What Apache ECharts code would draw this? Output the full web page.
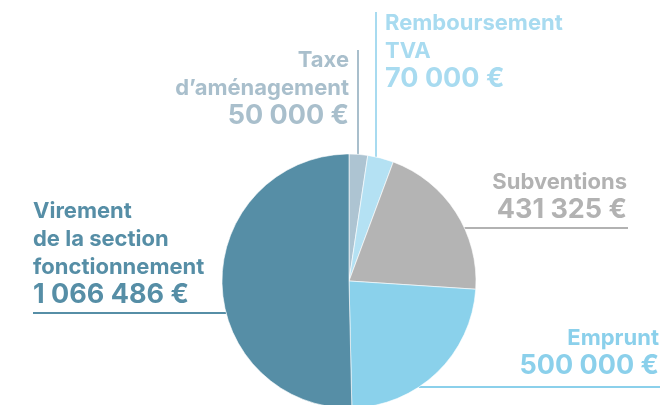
<!DOCTYPE html>
<html>
<head>
<meta charset="utf-8">
<script src="https://cdn.jsdelivr.net/npm/echarts@6/dist/echarts.min.js"></script>
<style>
  html, body { margin: 0; padding: 0; background: #fff; }
  #chart { width: 662px; height: 405px; }
</style>
</head>
<body>
<div id="chart"></div>
<script>
// Data
var names = ['Taxe\nd’aménagement', 'Remboursement\nTVA', 'Subventions', 'Emprunt', 'Virement\nde la section\nfonctionnement'];
var values = [50000, 70000, 431325, 500000, 1066486];

// Styles
var sliceColors = ['#adc4d2', '#b4e1f3', '#b4b4b4', '#8ad1eb', '#568ea6'];
var textColors = ['#a9bfcc', '#a8dbf0', '#b2b2b2', '#8bd0eb', '#568ea6'];

// pie geometry (px)
var cx = 349, cy = 281, r = 127;

// label placement: anchor x, top y, align, and guide line (vertical 'v' at x / horizontal 'h' at y, with outer end)
var place = [
  { x: 349, y: 46, align: 'right', dir: 'v', at: 358, end: 50 },
  { x: 385, y: 9, align: 'left', dir: 'v', at: 376, end: 12 },
  { x: 627, y: 168, align: 'right', dir: 'h', at: 228, end: 628 },
  { x: 659, y: 324, align: 'right', dir: 'h', at: 387, end: 660 },
  { x: 33, y: 197, align: 'left', dir: 'h', at: 313, end: 33 }
];

function euro(v) {
  return String(v).replace(/\B(?=(\d{3})+(?!\d))/g, ' ') + ' €';
}

var myChart = echarts.init(document.getElementById('chart'));

var seriesData = values.map(function (v, i) {
  return {
    name: names[i],
    value: v,
    itemStyle: { color: sliceColors[i] },
    label: { color: textColors[i] },
    labelLine: { lineStyle: { color: textColors[i] } }
  };
});

var font = 'Inter, "Liberation Sans", sans-serif';

var option = {
  animation: false,
  series: [
    {
      type: 'pie',
      center: [cx, cy],
      radius: r,
      startAngle: 90,
      clockwise: true,
      itemStyle: { borderColor: '#fff', borderWidth: 0.6 },
      label: {
        show: true,
        position: 'outside',
        overflow: 'none',
        fontFamily: font,
        formatter: function (p) {
          var lines = p.name.split('\n').map(function (s) { return '{n|' + s + '}'; });
          lines.push('{v|' + euro(p.value) + '}');
          return lines.join('\n');
        },
        rich: {
          n: { fontSize: 22, fontWeight: 'bold', lineHeight: 28, fontFamily: font },
          v: { fontSize: 27, fontWeight: 'bold', lineHeight: 28, fontFamily: font }
        }
      },
      labelLine: { show: true, lineStyle: { width: 2 } },
      labelLayout: function (params) {
        var p = place[params.dataIndex];
        var pts;
        if (p.dir === 'v') {
          var dx = p.at - cx;
          var ey = cy - Math.sqrt(r * r - dx * dx);
          pts = [[p.at, ey], [p.at, p.end], [p.at, p.end]];
        } else {
          var dy = p.at - cy;
          var w = Math.sqrt(r * r - dy * dy);
          var ex = p.end > cx ? cx + w : cx - w;
          pts = [[ex, p.at], [p.end, p.at], [p.end, p.at]];
        }
        return {
          x: p.x,
          y: p.y,
          align: p.align,
          verticalAlign: 'top',
          labelLinePoints: pts
        };
      },
      data: seriesData
    }
  ]
};

myChart.setOption(option);
</script>
</body>
</html>
